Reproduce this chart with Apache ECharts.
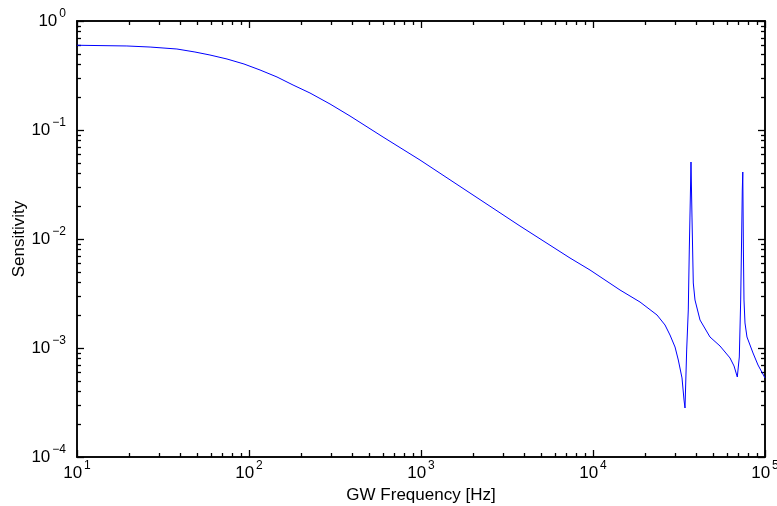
<!DOCTYPE html>
<html>
<head>
<meta charset="utf-8">
<script src="https://cdn.jsdelivr.net/npm/echarts@6/dist/echarts.min.js"></script>
<style>
html,body{margin:0;padding:0;background:#fff;}
#chart{width:777px;height:506px;}
</style>
</head>
<body>
<div id="chart"></div>
<script>
// GW frequency [Hz]
var freq = [10, 19.5, 26.6, 38.1, 48.5, 59.3, 74.5, 93.5, 115.9, 145.5, 180.3, 226.2, 295.8, 386.6, 601.4, 986.7,
  1927, 3763, 7350, 9607, 14355, 18763, 23560, 26220, 28030, 29990, 31330, 32920, 33820, 34270,
  35050, 35810, 36290, 36780, 37130, 37630, 38290, 39170, 41900, 47870, 54750, 62600, 66050, 69020,
  70890, 72230, 73200, 73790, 74280, 74880, 75490, 76500, 78560, 85170, 91060, 100000];
// Sensitivity
var sens = [0.599, 0.590, 0.577, 0.5535, 0.5195, 0.4876, 0.448, 0.4032, 0.3552, 0.3064, 0.2587, 0.2185, 0.1732, 0.1344, 0.08624, 0.05305,
  0.02642, 0.01316, 0.006694, 0.005194, 0.003404, 0.002642, 0.002008, 0.001626, 0.001316, 0.001021, 0.000776, 0.000531, 0.000333, 0.0002815,
  0.000959, 0.002232, 0.007927, 0.02279, 0.05086, 0.01591, 0.003948, 0.002757, 0.001806, 0.001262, 0.001043, 0.000810, 0.000684, 0.000542,
  0.000827, 0.002757, 0.01135, 0.02815, 0.04117, 0.007927, 0.002757, 0.001696, 0.001262, 0.000900, 0.000698, 0.000531];

var xMajor = [10, 100, 1000, 10000, 100000];
var yMajor = [0.0001, 0.001, 0.01, 0.1, 1];
var minorMultipliers = [2, 3, 4, 5, 6, 7, 8, 9];

function minorOf(majors) {
  var out = [];
  for (var i = 0; i < majors.length - 1; i++) {
    for (var j = 0; j < minorMultipliers.length; j++) out.push(majors[i] * minorMultipliers[j]);
  }
  return out;
}
var xMinor = minorOf(xMajor);
var yMinor = minorOf(yMajor);

var FONT = 'Liberation Sans';
var rich = {
  b: {fontSize: 17, fontFamily: FONT, color: '#000', lineHeight: 22, verticalAlign: 'bottom'},
  s: {fontSize: 12, fontFamily: FONT, color: '#000', lineHeight: 22, verticalAlign: 'top', padding: [0, 0, 0, 2]}
};
function powLabel(v) {
  var e = Math.round(Math.log(v) / Math.LN10);
  var es = e < 0 ? '\u2212' + (-e) : String(e);
  return '{b|10}{s|' + es + '}';
}

var data = freq.map(function (f, i) { return [f, sens[i]]; });

function axisBase(min, max, pos, ticks, len) {
  return {
    type: 'log', logBase: 10, min: min, max: max, position: pos,
    splitLine: {show: false},
    axisLine: {show: true, onZero: false, lineStyle: {color: '#000', width: 1.5}},
    axisLabel: {show: true, customValues: ticks, formatter: function () { return ''; }},
    axisTick: {show: true, inside: true, length: len, customValues: ticks, lineStyle: {color: '#000', width: 1.3}}
  };
}

var xAxes = [];
var x0 = axisBase(10, 100000, 'bottom', xMajor, 7);
x0.axisLabel = {show: true, customValues: xMajor, formatter: powLabel, rich: rich, margin: 3};
x0.name = 'GW Frequency [Hz]';
x0.nameLocation = 'middle';
x0.nameGap = 30;
x0.nameMoveOverlap = false;
x0.nameTextStyle = {fontSize: 17, fontFamily: FONT, color: '#000'};
xAxes.push(x0);
xAxes.push(axisBase(10, 100000, 'bottom', xMinor, 4));
xAxes.push(axisBase(10, 100000, 'top', xMajor, 7));
xAxes.push(axisBase(10, 100000, 'top', xMinor, 4));

var yAxes = [];
var y0 = axisBase(0.0001, 1, 'left', yMajor, 7);
y0.axisLabel = {show: true, customValues: yMajor, formatter: powLabel, rich: rich, margin: 11, padding: [0, 0, 5, 0]};
y0.name = 'Sensitivity';
y0.nameLocation = 'middle';
y0.nameGap = 49;
y0.nameMoveOverlap = false;
y0.nameTextStyle = {fontSize: 17, fontFamily: FONT, color: '#000'};
yAxes.push(y0);
yAxes.push(axisBase(0.0001, 1, 'left', yMinor, 4));
yAxes.push(axisBase(0.0001, 1, 'right', yMajor, 7));
yAxes.push(axisBase(0.0001, 1, 'right', yMinor, 4));

var chart = echarts.init(document.getElementById('chart'), null, {renderer: 'canvas'});
chart.setOption({
  animation: false,
  backgroundColor: '#fff',
  grid: {left: 77, right: 12, top: 21, bottom: 49, containLabel: false, outerBoundsMode: 'none'},
  xAxis: xAxes,
  yAxis: yAxes,
  series: [{
    type: 'line',
    xAxisIndex: 0, yAxisIndex: 0,
    data: data,
    showSymbol: false,
    symbol: 'none',
    smooth: false,
    lineStyle: {color: '#0000ff', width: 1},
    clip: true
  }]
});
</script>
</body>
</html>
